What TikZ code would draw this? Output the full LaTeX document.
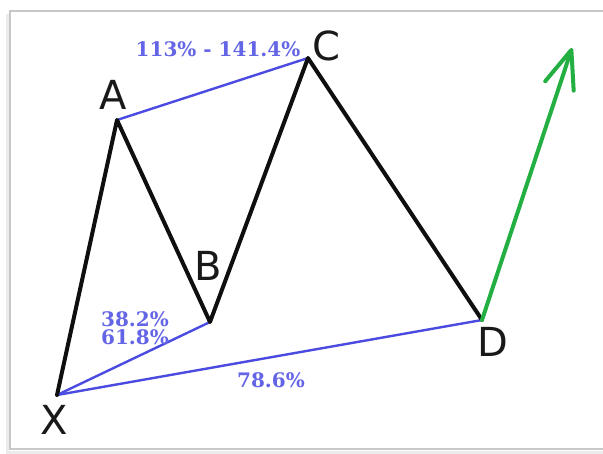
\documentclass[tikz,border=0pt]{standalone}
\usepackage{fontspec}
\setmainfont{DejaVu Sans}
\newfontfamily\pctfont{DejaVu Serif}
\usetikzlibrary{arrows.meta}
\definecolor{legblack}{RGB}{15,15,15}
\definecolor{fibline}{RGB}{75,75,225}
\definecolor{fibtext}{RGB}{100,100,230}
\definecolor{upgreen}{RGB}{35,175,65}
\definecolor{framegray}{RGB}{200,200,200}
\definecolor{lettercol}{RGB}{25,25,25}
\tikzset{
  leg/.style={draw=legblack,line width=4pt,line join=round,line cap=round},
  fib/.style={draw=fibline,line width=2.4pt,line cap=round},
  letter/.style={font=\fontsize{40}{40}\selectfont,text=lettercol,inner sep=0pt},
  pct/.style={font=\pctfont\bfseries\fontsize{20}{20}\selectfont,text=fibtext,inner sep=0pt},
  uparrow/.style={draw=upgreen,line width=4pt,line cap=round,
    -{Straight Barb[length=38pt,width=30pt,line width=4pt,round]}}
}
\begin{document}
\begin{tikzpicture}[x=1pt,y=-1pt]
\useasboundingbox (0,0) rectangle (603,453);
\fill[white] (0,0) rectangle (603,453);
% frame
\draw[framegray,line width=1.5pt] (603,11) -- (10,11) -- (10,449) -- (603,449);
\draw[black!8,line width=3pt] (7,14) -- (7,452) -- (603,452);
% points
\coordinate (X) at (57,395);
\coordinate (A) at (117,120);
\coordinate (B) at (210,322);
\coordinate (C) at (308,58);
\coordinate (D) at (482,320);
\coordinate (T) at (572,48);
% fib lines
\draw[fib] (A) -- (C);
\draw[fib] (X) -- (B);
\draw[fib] (X) -- (D);
% legs
\draw[leg] (X) -- (A) -- (B) -- (C) -- (D);
% arrow
\draw[uparrow] (D) -- (T);
% letters
\node[letter] (lA) at (113,95) {A};
\node[letter] (lB) at (208,266) {B};
\node[letter] (lC) at (326,46) {C};
\node[letter] (lD) at (493,342) {D};
\node[letter] (lX) at (54,420) {X};
% percentages
\node[pct] (pAC) at (218,49) {113\% - 141.4\%};
\node[pct] (pB1) at (135,319) {38.2\%};
\node[pct] (pB2) at (135,337) {61.8\%};
\node[pct] (pD) at (271,380) {78.6\%};
\end{tikzpicture}
\end{document}
